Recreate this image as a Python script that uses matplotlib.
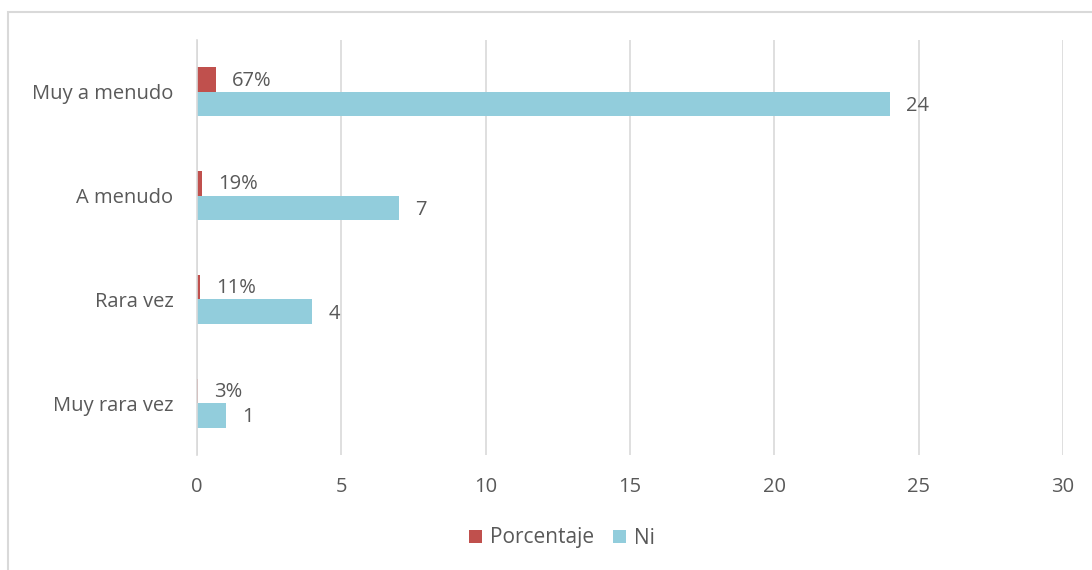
import matplotlib
matplotlib.use('Agg')
import matplotlib.pyplot as plt
import numpy as np
from matplotlib.patches import Rectangle

categorias = ['Muy a menudo', 'A menudo', 'Rara vez', 'Muy rara vez']
porcentaje = [0.67, 0.19, 0.11, 0.03]
ni = [24, 7, 4, 1]
etiquetas_pct = ['67%', '19%', '11%', '3%']
etiquetas_ni = ['24', '7', '4', '1']
xticks = [0, 5, 10, 15, 20, 25, 30]

rojo = '#C0504D'
azul = '#92CDDC'
gris_txt = '#595959'
gris_grid = '#D9D9D9'
fs = 14.5

plt.rcParams['font.family'] = ['Open Sans', 'DejaVu Sans']

fig = plt.figure(figsize=(10.92, 5.70), dpi=100)
ax = fig.add_axes([197/1092, 1 - 455/570, (1063 - 197)/1092, (455 - 40)/570])

# borde del area del grafico
fig.patches.append(Rectangle((8/1092, -0.05), 1.1, 1 - 12/570 + 0.05,
                             transform=fig.transFigure, fill=False,
                             edgecolor='#D9D9D9', lw=1.5, zorder=0))

y = np.arange(len(categorias))[::-1]
h = 0.236
ax.barh(y + h/2, porcentaje, height=h, color=rojo, label='Porcentaje', zorder=3)
ax.barh(y - h/2, ni, height=h, color=azul, label='Ni', zorder=3)

off = 0.55
for yi, v, t in zip(y, porcentaje, etiquetas_pct):
    ax.text(v + off, yi + h/2 - 0.01, t, va='center', ha='left',
            fontsize=fs, color=gris_txt)
for yi, v, t in zip(y, ni, etiquetas_ni):
    ax.text(v + off, yi - h/2 - 0.02, t, va='center', ha='left',
            fontsize=fs, color=gris_txt)

ax.set_xlim(0, 30)
ax.set_ylim(-0.5, len(categorias) - 0.5)
ax.set_xticks(xticks)
ax.set_yticks(y)
ax.set_yticklabels(categorias)
ax.tick_params(axis='both', length=0, labelsize=fs, labelcolor=gris_txt)
ax.tick_params(axis='x', pad=16)
ax.tick_params(axis='y', pad=17)
ax.grid(axis='x', color=gris_grid, lw=1.2, zorder=0)
for s in ['top', 'right', 'bottom']:
    ax.spines[s].set_visible(False)
ax.spines['left'].set_color(gris_grid)
ax.spines['left'].set_linewidth(1.2)
ax.spines['left'].set_zorder(4)

leg = fig.legend(loc='center', bbox_to_anchor=(562/1092, 1 - 538/570), ncol=2,
                 frameon=False, fontsize=15, handlelength=0.6,
                 handleheight=0.6, handletextpad=0.4, columnspacing=0.9)
for t in leg.get_texts():
    t.set_color(gris_txt)

plt.savefig('out.png', dpi=100)
plt.close()
